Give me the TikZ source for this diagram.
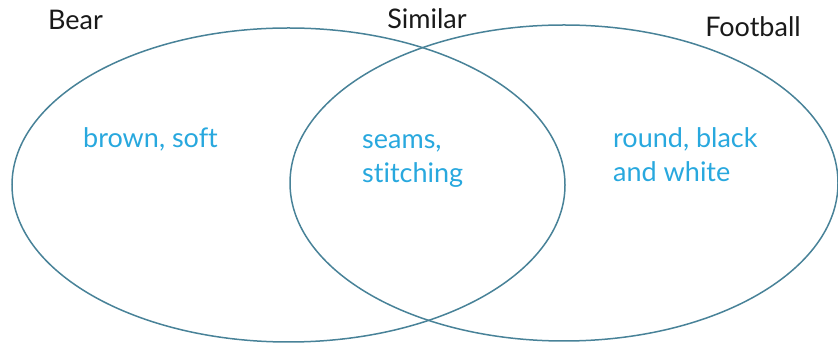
\documentclass[tikz,border=0pt]{standalone}
\usepackage{fontspec}
\setmainfont{Lato}[Ligatures=NoCommon]
\usepackage{tikz}
\usetikzlibrary{positioning}

\definecolor{ringline}{RGB}{72,130,152}
\definecolor{notetext}{RGB}{40,168,222}

\begin{document}
\begin{tikzpicture}[
    x=1pt, y=-1pt,
    ring/.style={draw=ringline, line width=1.5pt},
    title/.style={font=\fontsize{27}{32}\selectfont, text=black!90, inner sep=0pt},
    note/.style={font=\fontsize{27}{34}\selectfont, text=notetext, align=left, inner sep=0pt}
]
\useasboundingbox (0,0) rectangle (838,344);
% the two sets
\coordinate (bearc) at (288.5,185);
\coordinate (ballc) at (564,183);
\draw[ring] (bearc) ellipse [x radius=276.5, y radius=157];
\draw[ring] (ballc) ellipse [x radius=274, y radius=158];
% set titles
\node (bear) [title, anchor=base west] at (48,30) {Bear};
\node (similar) [title, anchor=base] at (427,29) {Similar};
\node (football) [title, anchor=base] at (753,37) {Football};
% contents
\node (bearnote) [note, anchor=base west] at (83,148) {brown, soft};
\node (simnote) [note, anchor=base west] at (362,183) {seams,\\stitching};
\node (ballnote) [note, anchor=base west] at (613,182) {round, black\\and white};
\end{tikzpicture}
\end{document}
